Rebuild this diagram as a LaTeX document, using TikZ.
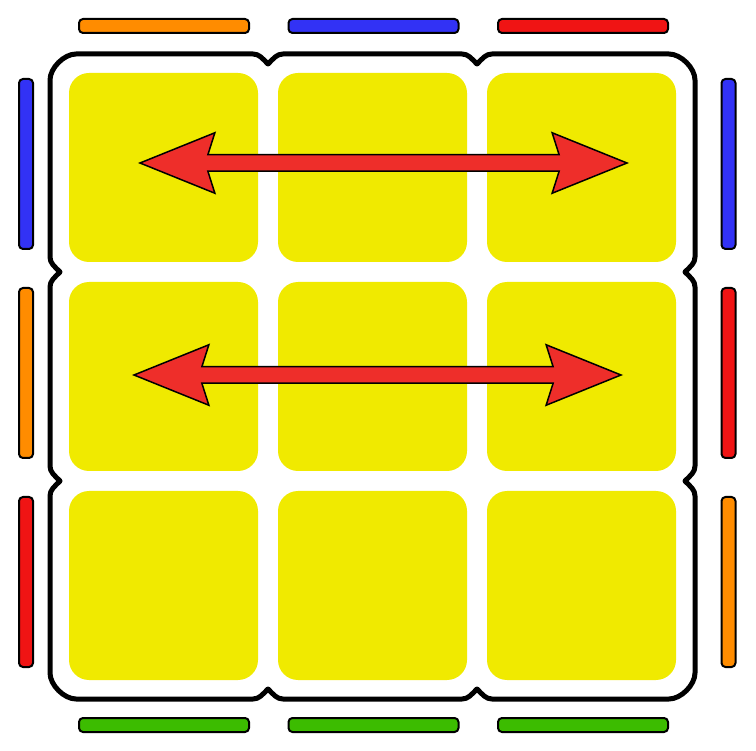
\documentclass[tikz,border=0pt]{standalone}
\usetikzlibrary{shapes.arrows, calc}
\definecolor{cubeyellow}{HTML}{F0EA00}
\definecolor{cubered}{HTML}{F01414}
\definecolor{cubeblue}{HTML}{3232F5}
\definecolor{cubeorange}{HTML}{FF8C00}
\definecolor{cubegreen}{HTML}{3CBC00}
\definecolor{arrowred}{HTML}{EE2E2A}

\begin{document}
\begin{tikzpicture}[
    x=1pt, y=-1pt,
    sticker/.style={
      fill=cubeyellow,
      rounded corners=20pt,
      minimum size=189pt,
      inner sep=0pt,
    },
    hbar/.style={
      draw=black,
      line width=2pt,
      fill=#1,
      rounded corners=4pt,
      minimum width=170pt,
      minimum height=14pt,
      inner sep=0pt,
    },
    vbar/.style={
      draw=black,
      line width=2pt,
      fill=#1,
      rounded corners=4pt,
      minimum width=14pt,
      minimum height=170pt,
      inner sep=0pt,
    },
    frame/.style={
      draw=black,
      line width=5pt,
      line join=round,
    },
    swap/.style={
      double arrow,
      fill=arrowred,
      draw=black,
      line width=1.5pt,
      minimum height=487pt,
      inner sep=7.5pt,
      double arrow head extend=22pt,
      double arrow tip angle=44,
      double arrow head indent=7pt,
    },
  ]

  \useasboundingbox (0,0) rectangle (756,751);

  % Stickers of the top face
  \foreach \r/\y in {1/167.5,2/376.5,3/585.5} {
    \foreach \c/\x in {1/163.5,2/372.5,3/581.5} {
      \node[sticker] (s\r\c) at (\x,\y) {};
    }
  }

  % Cube outline with notches
  \draw[frame] (76,54) -- (253,54)
    .. controls (259,54) and (262,58) .. (268,64) .. controls (274,58) and (277,54) .. (283,54)
    -- (462,54)
    .. controls (468,54) and (471,58) .. (477,64) .. controls (483,58) and (486,54) .. (492,54)
    -- (669,54) .. controls (681,54) and (695,68) .. (695,80)
    -- (695,257)
    .. controls (695,263) and (691,266) .. (685,272) .. controls (691,278) and (695,281) .. (695,287)
    -- (695,466)
    .. controls (695,472) and (691,475) .. (685,481) .. controls (691,487) and (695,490) .. (695,496)
    -- (695,673) .. controls (695,685) and (681,699) .. (669,699)
    -- (492,699)
    .. controls (486,699) and (483,695) .. (477,689) .. controls (471,695) and (468,699) .. (462,699)
    -- (283,699)
    .. controls (277,699) and (274,695) .. (268,689) .. controls (262,695) and (259,699) .. (253,699)
    -- (76,699) .. controls (64,699) and (50,685) .. (50,673)
    -- (50,496)
    .. controls (50,490) and (54,487) .. (60,481) .. controls (54,475) and (50,472) .. (50,466)
    -- (50,287)
    .. controls (50,281) and (54,278) .. (60,272) .. controls (54,266) and (50,263) .. (50,257)
    -- (50,80) .. controls (50,68) and (64,54) .. (76,54) -- cycle;

  % Side colours
  \foreach \i/\p/\col in {1/164/cubeorange,2/373.5/cubeblue,3/583/cubered} {
    \node[hbar=\col] (top\i) at (\p,26) {};
  }
  \foreach \i/\p in {1/164,2/373.5,3/583} {
    \node[hbar=cubegreen] (bottom\i) at (\p,725) {};
  }
  \foreach \i/\p/\col in {1/164/cubeblue,2/373/cubeorange,3/582/cubered} {
    \node[vbar=\col] (left\i) at (26,\p) {};
  }
  \foreach \i/\p/\col in {1/164/cubeblue,2/373/cubered,3/582/cubeorange} {
    \node[vbar=\col] (right\i) at (728.5,\p) {};
  }

  % Swap arrows
  \node[swap] (swapA) at (383.5,163) {};
  \node[swap] (swapB) at (377.5,375) {};

\end{tikzpicture}
\end{document}
